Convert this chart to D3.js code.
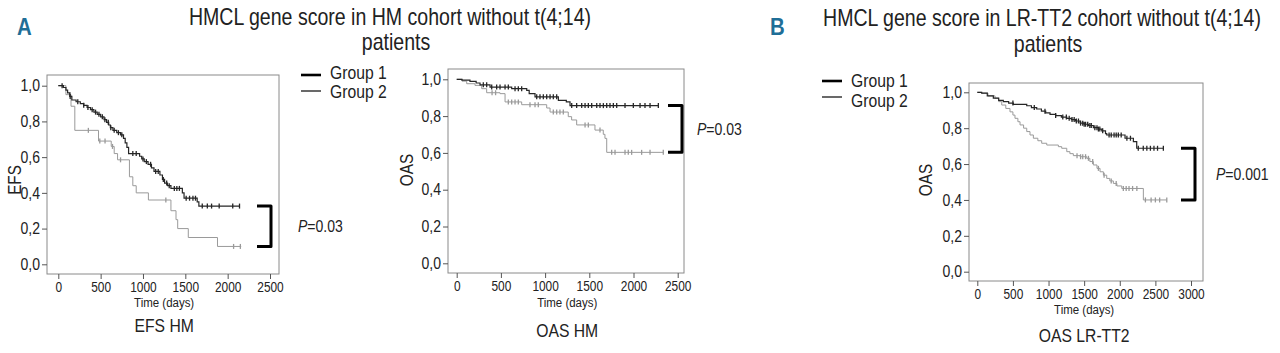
<!DOCTYPE html>
<html>
<head>
<meta charset="utf-8">
<script src="https://cdn.jsdelivr.net/npm/d3@7"></script>
<style>
  body { margin: 0; background: #fff; }
  svg { display: block; font-family: 'Liberation Sans', Arial, sans-serif; }
</style>
</head>
<body>
<svg id="chart" width="1280" height="353"></svg>
<script>
// survival curves: [day, survival] after each step, last point = end of follow-up
var efsHmG1 = [[0,1],[60,0.99],[90,0.975],[110,0.96],[135,0.94],[160,0.92],[210,0.91],[260,0.90],[300,0.89],[340,0.878],[380,0.866],[420,0.852],[460,0.84],[500,0.826],[540,0.81],[570,0.795],[595,0.78],[615,0.765],[645,0.75],[690,0.737],[735,0.725],[770,0.705],[790,0.68],[810,0.655],[830,0.62],[960,0.605],[985,0.59],[1015,0.575],[1060,0.56],[1100,0.54],[1130,0.52],[1200,0.50],[1230,0.475],[1255,0.455],[1290,0.44],[1330,0.425],[1465,0.40],[1485,0.37],[1640,0.35],[1660,0.326],[2140,0.326]];
var efsHmG2 = [[0,1],[90,0.95],[150,0.885],[195,0.75],[475,0.69],[625,0.66],[660,0.62],[700,0.585],[840,0.49],[880,0.44],[920,0.40],[1064,0.36],[1330,0.30],[1390,0.25],[1410,0.20],[1535,0.15],[1880,0.10],[2160,0.10]];
var efsHmC1 = [45,140,230,300,350,400,440,480,520,550,590,620,660,710,750,880,920,1000,1040,1090,1150,1180,1240,1280,1310,1370,1400,1430,1510,1550,1590,1620,1700,1760,1810,1900,2060,2140];
var efsHmC2 = [140,355,490,552,640,735,1270,2070,2150];

var oasHmG1 = [[0,1],[60,0.996],[150,0.989],[220,0.98],[264,0.97],[377,0.958],[622,0.949],[792,0.94],[820,0.922],[886,0.905],[1150,0.886],[1240,0.877],[1282,0.857],[2281,0.857]];
var oasHmG2 = [[0,1],[60,0.99],[113,0.976],[207,0.967],[283,0.949],[339,0.927],[490,0.922],[547,0.877],[735,0.862],[1018,0.844],[1056,0.822],[1262,0.797],[1300,0.779],[1357,0.752],[1564,0.724],[1658,0.701],[1677,0.679],[1697,0.603],[2337,0.603]];
var oasHmC1 = [301,339,396,452,490,547,584,660,697,735,905,942,980,1018,1056,1093,1131,1301,1357,1414,1452,1489,1527,1584,1621,1659,1697,1734,1772,1810,1904,1998,2074,2130,2187,2281];
var oasHmC2 = [400,440,584,622,660,697,829,886,923,1093,1131,1168,1206,1452,1489,1621,1753,1791,1904,1941,1979,2092,2187,2337];

var oasLrG1 = [[0,1],[62,0.995],[140,0.98],[225,0.967],[300,0.955],[365,0.948],[440,0.94],[506,0.933],[694,0.925],[760,0.915],[834,0.907],[900,0.895],[960,0.885],[1021,0.877],[1100,0.87],[1180,0.862],[1256,0.855],[1320,0.848],[1380,0.84],[1443,0.828],[1500,0.822],[1559,0.815],[1629,0.803],[1700,0.795],[1747,0.785],[1800,0.77],[1817,0.762],[2074,0.744],[2191,0.725],[2238,0.688],[2612,0.688]];
var oasLrG2 = [[0,1],[60,0.995],[150,0.98],[249,0.967],[300,0.948],[343,0.929],[400,0.91],[459,0.891],[500,0.873],[529,0.855],[570,0.836],[600,0.818],[650,0.80],[694,0.781],[740,0.762],[787,0.744],[850,0.73],[904,0.716],[975,0.706],[1138,0.697],[1185,0.688],[1256,0.669],[1300,0.658],[1348,0.647],[1443,0.641],[1537,0.632],[1580,0.614],[1629,0.595],[1680,0.576],[1723,0.557],[1770,0.538],[1817,0.52],[1860,0.506],[1910,0.492],[1960,0.478],[2028,0.464],[2331,0.40],[2660,0.40]];
var oasLrC1 = [500,800,950,1100,1200,1250,1290,1330,1360,1390,1420,1450,1480,1500,1520,1550,1580,1600,1650,1680,1700,1720,1760,1850,1880,1920,1950,1980,2020,2100,2150,2260,2330,2380,2430,2480,2530,2612];
var oasLrC2 = [1400,1450,1480,1520,1560,1620,1700,1780,1880,1950,2050,2090,2130,2180,2240,2360,2440,2500,2560,2660];

var yTicks = [0, 0.2, 0.4, 0.6, 0.8, 1.0];
var xTicksHm = [0, 500, 1000, 1500, 2000, 2500];
var xTicksLr = [0, 500, 1000, 1500, 2000, 2500, 3000];
var groupNames = ['Group 1', 'Group 2'];

var panels = [
  {g1: efsHmG1, g2: efsHmG2, c1: efsHmC1, c2: efsHmC2, xTicks: xTicksHm, yLabel: 'EFS', title: 'EFS HM', p: '=0.03',
   frame: [47, 75, 279, 274], xr: [58.3, 270], yr: [264.3, 85.7], yLab: [15, 180], brX: 271, pX: 298,
   timeY: 307, titleY: 332},
  {g1: oasHmG1, g2: oasHmG2, c1: oasHmC1, c2: oasHmC2, xTicks: xTicksHm, yLabel: 'OAS', title: 'OAS HM', p: '=0.03',
   frame: [448, 69, 684, 273], xr: [456.7, 677.7], yr: [263.3, 79.3], yLab: [407, 170], brX: 682, pX: 697,
   timeY: 307, titleY: 337},
  {g1: oasLrG1, g2: oasLrG2, c1: oasLrC1, c2: oasLrC2, xTicks: xTicksLr, yLabel: 'OAS', title: 'OAS LR-TT2', p: '=0.001',
   frame: [969, 83, 1203, 281], xr: [977.3, 1191], yr: [271.7, 92.3], yLab: [926, 180], brX: 1195, pX: 1216,
   timeY: 314, titleY: 342}
];

var svg = d3.select('#chart');
var c1 = '#262626', c2 = '#9a9a9a';
var squeeze = 0.85; // condensed look of the original face

// text drawn squeezed horizontally around its anchor point
function label(parent, x, y, str, size, anchor){
  return parent.append('text')
    .attr('transform', 'translate(' + x + ',' + y + ') scale(' + squeeze + ',1)')
    .attr('text-anchor', anchor || 'start')
    .attr('font-size', size).attr('fill', '#222')
    .text(str);
}

function survAt(curve, t){
  var s = curve[0][1];
  curve.forEach(function(d){ if (d[0] <= t) s = d[1]; });
  return s;
}

function drawPanel(p){
  var g = svg.append('g');
  var f = p.frame;
  var xMax = p.xTicks[p.xTicks.length-1];
  var x = d3.scaleLinear().domain([0, xMax]).range(p.xr);
  var y = d3.scaleLinear().domain([0, 1]).range(p.yr);

  g.append('rect')
    .attr('x', f[0]).attr('y', f[1])
    .attr('width', f[2]-f[0]).attr('height', f[3]-f[1])
    .attr('fill', 'none').attr('stroke', '#8a8a8a').attr('stroke-width', 1);

  var yAxis = g.append('g').attr('transform', 'translate(' + f[0] + ',0)')
    .call(d3.axisLeft(y).tickValues(yTicks).tickSize(5).tickPadding(2)
      .tickFormat(function(d){ return d.toFixed(1).replace('.', ','); }));
  yAxis.select('.domain').remove();
  yAxis.selectAll('line').attr('stroke', '#555');
  yAxis.selectAll('text')
    .attr('x', -7 / squeeze)
    .attr('transform', 'scale(' + squeeze + ',1)')
    .attr('font-size', 16.5).attr('fill', '#222').attr('font-family', null);

  var xAxis = g.append('g').attr('transform', 'translate(0,' + f[3] + ')')
    .call(d3.axisBottom(x).tickValues(p.xTicks).tickSize(5).tickPadding(3).tickFormat(d3.format('d')));
  xAxis.select('.domain').remove();
  xAxis.selectAll('line').attr('stroke', '#555');
  xAxis.selectAll('text')
    .attr('transform', 'scale(' + squeeze + ',1)')
    .attr('font-size', 14).attr('fill', '#222').attr('font-family', null);

  var line = d3.line().curve(d3.curveStepAfter)
    .x(function(d){ return x(d[0]); })
    .y(function(d){ return y(d[1]); });

  [[p.g2, p.c2, c2, 1], [p.g1, p.c1, c1, 1.2]].forEach(function(s){
    g.append('path').datum(s[0])
      .attr('d', line).attr('fill', 'none')
      .attr('stroke', s[2]).attr('stroke-width', s[3]);
    g.selectAll(null).data(s[1]).enter().append('line')
      .attr('x1', function(t){ return x(t); }).attr('x2', function(t){ return x(t); })
      .attr('y1', function(t){ return y(survAt(s[0], t)) - 2.5; })
      .attr('y2', function(t){ return y(survAt(s[0], t)) + 2.5; })
      .attr('stroke', s[2]).attr('stroke-width', 1.3);
  });

  // bracket between end values
  var yTop = y(p.g1[p.g1.length-1][1]);
  var yBot = y(p.g2[p.g2.length-1][1]);
  g.append('path')
    .attr('d', 'M' + (p.brX-14) + ',' + yTop + 'H' + p.brX + 'V' + yBot + 'H' + (p.brX-14))
    .attr('fill', 'none').attr('stroke', '#000').attr('stroke-width', 3)
    .attr('stroke-linejoin', 'round');
  var pt = label(g, p.pX, (yTop + yBot)/2 + 6, null, 16.5);
  pt.append('tspan').attr('font-style', 'italic').text('P');
  pt.append('tspan').text(p.p);

  g.append('text')
    .attr('transform', 'translate(' + p.yLab[0] + ',' + p.yLab[1] + ') rotate(-90) scale(' + squeeze + ',1)')
    .attr('text-anchor', 'middle').attr('dominant-baseline', 'central')
    .attr('font-size', 18).attr('fill', '#222').text(p.yLabel);

  var cx = (p.xr[0] + p.xr[1]) / 2;
  label(g, cx, p.timeY, 'Time (days)', 13.5, 'middle');
  label(g, cx, p.titleY, p.title, 18.5, 'middle');
}

panels.forEach(drawPanel);

// panel letters and headings
var heads = [
  {letter: 'A', lx: 17, line1: 'HMCL gene score in HM cohort without t(4;14)', cx: 390, y1: 25, y2: 50},
  {letter: 'B', lx: 770, line1: 'HMCL gene score in LR-TT2 cohort without t(4;14)', cx: 1042, y1: 26, y2: 52}
];
heads.forEach(function(h){
  label(svg, h.lx, 35, h.letter, 24)
    .attr('font-weight', 'bold').attr('fill', '#1f6e97');
  label(svg, h.cx, h.y1, h.line1, 23, 'middle');
  label(svg, h.cx + 6, h.y2, 'patients', 23, 'middle');
});

// legends
var legends = [
  {x: 301, lineY: [75, 91], textY: [79, 98]},
  {x: 822, lineY: [81, 97], textY: [87, 107]}
];
legends.forEach(function(l){
  groupNames.forEach(function(name, i){
    svg.append('line')
      .attr('x1', l.x).attr('x2', l.x + 20)
      .attr('y1', l.lineY[i]).attr('y2', l.lineY[i])
      .attr('stroke', i === 0 ? '#000' : '#444')
      .attr('stroke-width', i === 0 ? 2.6 : 1.6);
    label(svg, l.x + 29, l.textY[i], name, 18.5);
  });
});
</script>
</body>
</html>
